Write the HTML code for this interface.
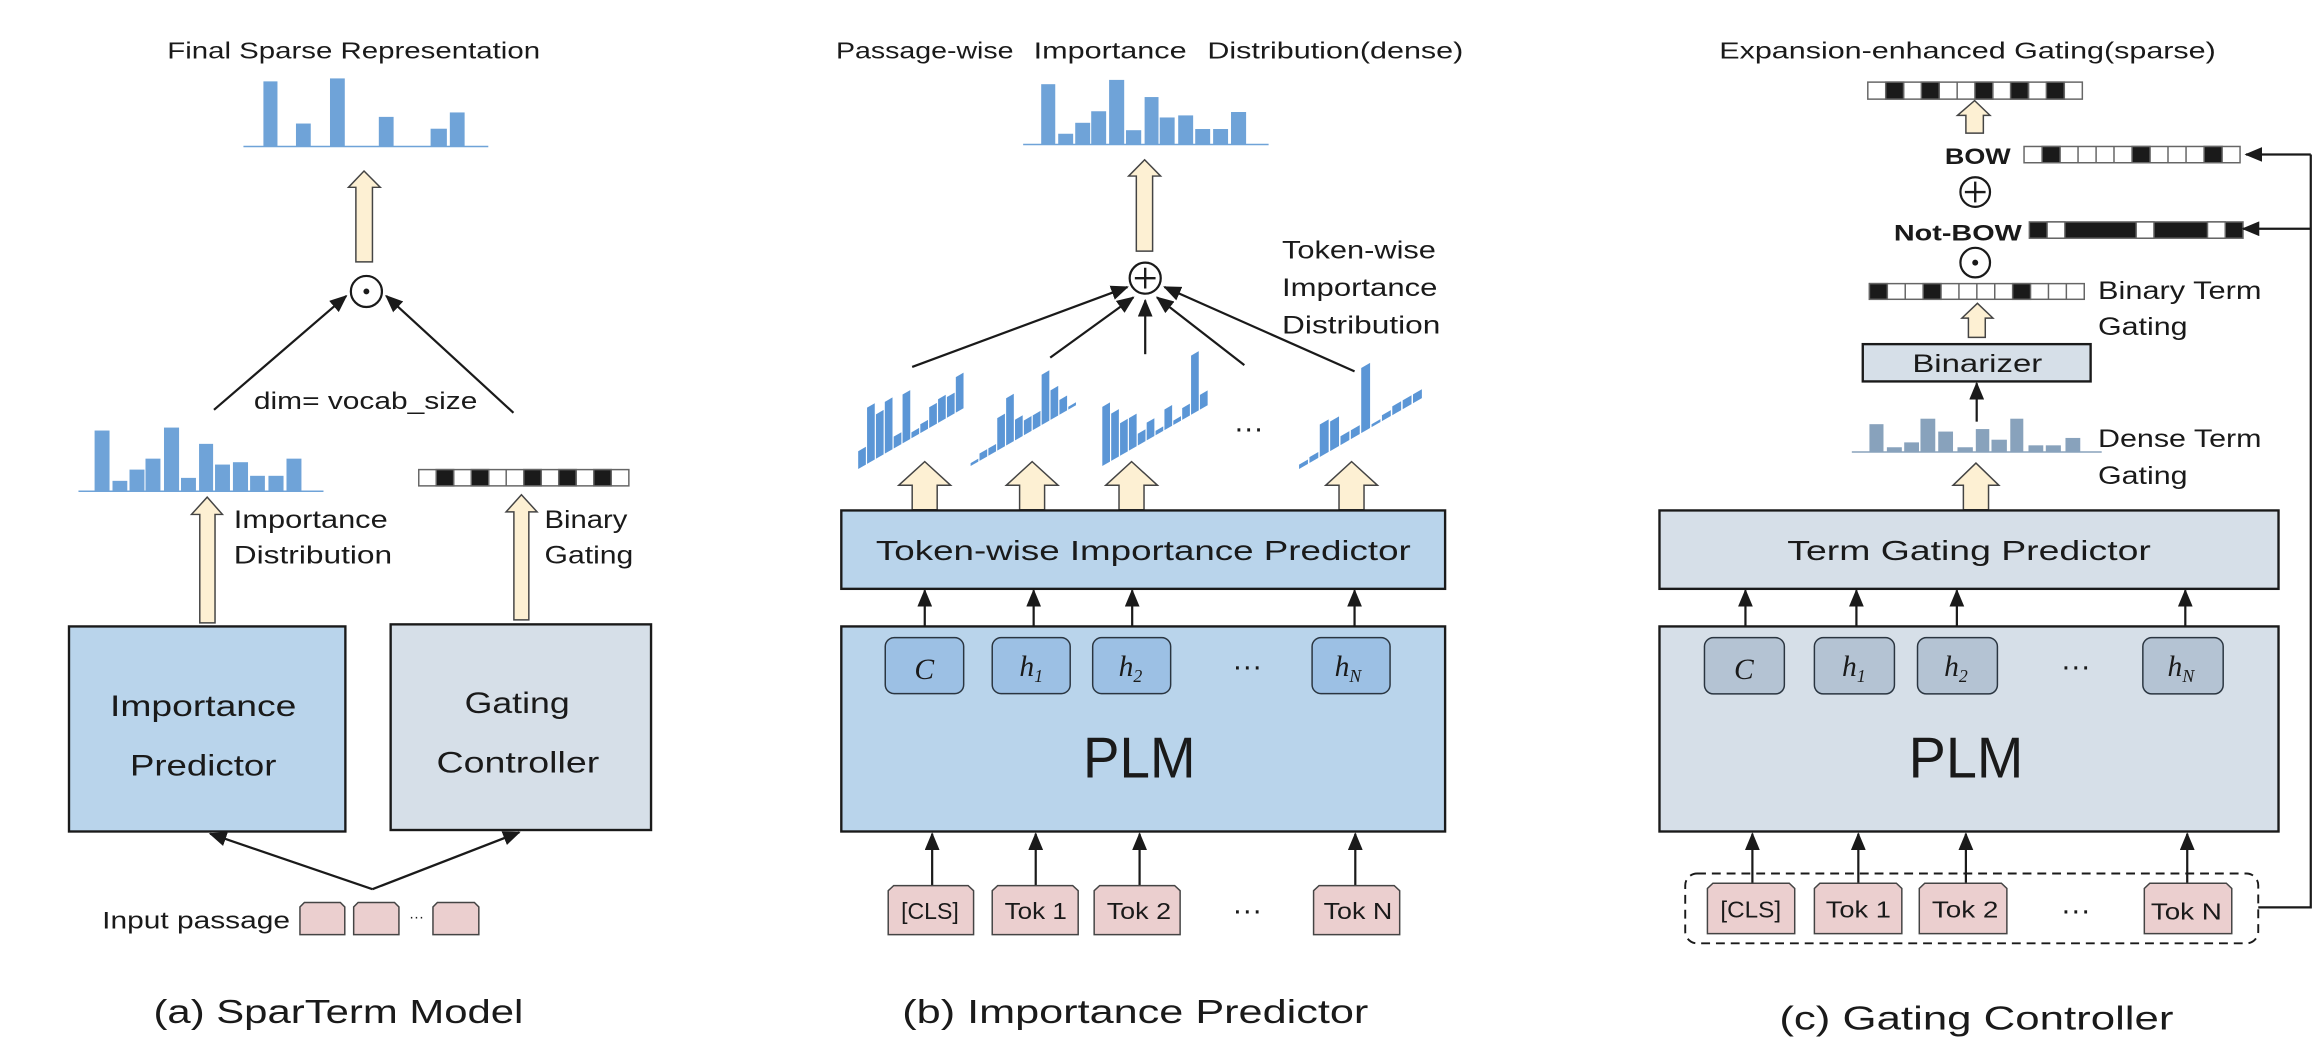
<!DOCTYPE html>
<html><head><meta charset="utf-8"><style>
html,body{margin:0;padding:0;background:#fff;}
svg{display:block;}
text{font-family:"Liberation Sans",sans-serif;fill:#1a1a1a;}
.m{font-family:"Liberation Serif",serif;font-style:italic;}
</style></head><body>
<svg width="2320" height="1062" viewBox="0 0 1568 717.8" xmlns="http://www.w3.org/2000/svg">
<defs>
<marker id="ah" markerUnits="userSpaceOnUse" markerWidth="12" markerHeight="10" refX="11" refY="5" orient="auto">
<path d="M0,0 L12,5 L0,10 Z" fill="#1a1a1a"/></marker>
</defs>

<!-- ================= PANEL A ================= -->
<text x="113" y="39.5" font-size="15.5" textLength="252" lengthAdjust="spacingAndGlyphs">Final Sparse Representation</text>
<g fill="#6fa3d8">
<rect x="178" y="55" width="9.5" height="44"/><rect x="200" y="83.5" width="10" height="15.5"/>
<rect x="223" y="53" width="10" height="46"/><rect x="256" y="79" width="10" height="20"/>
<rect x="291" y="87" width="11" height="12"/><rect x="304" y="76" width="10" height="23"/>
</g>
<line x1="164.5" y1="99" x2="330" y2="99" stroke="#6fa3d8" stroke-width="1"/>
<path d="M246,115.6 L257,126.6 L251.7,126.6 L251.7,177 L240.5,177 L240.5,126.6 L235.5,126.6 Z" fill="#fdf0d3" stroke="#444" stroke-width="1"/>
<circle cx="247.6" cy="197" r="10.5" fill="#fff" stroke="#1a1a1a" stroke-width="1.5"/>
<circle cx="247.6" cy="197" r="2" fill="#1a1a1a"/>
<line x1="144.6" y1="277" x2="234" y2="200" stroke="#1a1a1a" stroke-width="1.5" marker-end="url(#ah)"/>
<line x1="347" y1="279" x2="261" y2="200" stroke="#1a1a1a" stroke-width="1.5" marker-end="url(#ah)"/>
<text x="171.6" y="276.5" font-size="16" textLength="151" lengthAdjust="spacingAndGlyphs">dim= vocab_size</text>
<g fill="#6fa3d8">
<rect x="63.9" y="291" width="10.1" height="41"/><rect x="76" y="325" width="10" height="7"/>
<rect x="87.5" y="317.4" width="10.1" height="14.6"/><rect x="98.3" y="310" width="10.1" height="22"/>
<rect x="110.8" y="289" width="10.2" height="43"/><rect x="122.3" y="323" width="10.1" height="9"/>
<rect x="134.5" y="300" width="9.5" height="32"/><rect x="145.3" y="314" width="10.1" height="18"/>
<rect x="157.4" y="312.4" width="10.2" height="19.6"/><rect x="169" y="321.6" width="10" height="10.4"/>
<rect x="181.4" y="321.6" width="10.2" height="10.4"/><rect x="193.6" y="310" width="10.1" height="22"/>
</g>
<line x1="53" y1="332" x2="218.6" y2="332" stroke="#6fa3d8" stroke-width="1"/>
<path d="M140,336 L150.3,347.7 L145.3,347.7 L145.3,421 L135,421 L135,347.7 L129.4,347.7 Z" fill="#fdf0d3" stroke="#444" stroke-width="1"/>
<text x="158" y="357" font-size="17" textLength="104" lengthAdjust="spacingAndGlyphs">Importance</text>
<text x="158" y="381" font-size="17" textLength="107" lengthAdjust="spacingAndGlyphs">Distribution</text>
<g stroke="#666" stroke-width="1">
<rect x="283" y="317.4" width="142" height="11" fill="#fff"/>
<rect x="294.8" y="317.4" width="11.8" height="11" fill="#1a1a1a"/>
<rect x="318.5" y="317.4" width="11.8" height="11" fill="#1a1a1a"/>
<rect x="354" y="317.4" width="11.8" height="11" fill="#1a1a1a"/>
<rect x="377.6" y="317.4" width="11.8" height="11" fill="#1a1a1a"/>
<rect x="401.3" y="317.4" width="11.8" height="11" fill="#1a1a1a"/>
<path d="M306.6,317.4v11M330.3,317.4v11M342.1,317.4v11M365.8,317.4v11M389.4,317.4v11M413.1,317.4v11"/>
</g>
<path d="M352.4,334.4 L363,346 L357.4,346 L357.4,419 L347.3,419 L347.3,346 L342,346 Z" fill="#fdf0d3" stroke="#444" stroke-width="1"/>
<text x="368" y="357" font-size="17" textLength="56" lengthAdjust="spacingAndGlyphs">Binary</text>
<text x="368" y="381" font-size="17" textLength="60" lengthAdjust="spacingAndGlyphs">Gating</text>
<rect x="46.6" y="423.4" width="186.8" height="138.6" fill="#b9d4eb" stroke="#1a1a1a" stroke-width="1.6"/>
<text x="74.3" y="484" font-size="20" textLength="126" lengthAdjust="spacingAndGlyphs">Importance</text>
<text x="87.8" y="524" font-size="20" textLength="99" lengthAdjust="spacingAndGlyphs">Predictor</text>
<rect x="264" y="422" width="176" height="139" fill="#d6dfe8" stroke="#1a1a1a" stroke-width="1.6"/>
<text x="314" y="482" font-size="20" textLength="71" lengthAdjust="spacingAndGlyphs">Gating</text>
<text x="295" y="522" font-size="20" textLength="110" lengthAdjust="spacingAndGlyphs">Controller</text>
<line x1="251.7" y1="601" x2="142" y2="563.5" stroke="#1a1a1a" stroke-width="1.5" marker-end="url(#ah)"/>
<line x1="251.7" y1="601" x2="351" y2="562.5" stroke="#1a1a1a" stroke-width="1.5" marker-end="url(#ah)"/>
<text x="69" y="627.5" font-size="16" textLength="127" lengthAdjust="spacingAndGlyphs">Input passage</text>
<g fill="#ebcfcf" stroke="#444" stroke-width="1">
<path d="M202.7,631.7 V613 L205.7,610 H230 L233,613 V631.7 Z"/>
<path d="M239,631.7 V613 L242,610 H266.6 L269.6,613 V631.7 Z"/>
<path d="M292.6,631.7 V613 L295.6,610 H320.6 L323.6,613 V631.7 Z"/>
</g>
<text x="276.5" y="623" font-size="10">···</text>
<text x="103.7" y="691.5" font-size="22.5" textLength="250" lengthAdjust="spacingAndGlyphs">(a) SparTerm Model</text>

<!-- ================= PANEL B ================= -->
<text x="565" y="39.5" font-size="15.5" textLength="120" lengthAdjust="spacingAndGlyphs">Passage-wise</text>
<text x="698.6" y="39.5" font-size="15.5" textLength="103.4" lengthAdjust="spacingAndGlyphs">Importance</text>
<text x="816" y="39.5" font-size="15.5" textLength="173" lengthAdjust="spacingAndGlyphs">Distribution(dense)</text>
<g fill="#6fa3d8">
<rect x="703.7" y="56.9" width="9.5" height="40.8"/><rect x="715.2" y="90.4" width="10.1" height="7.3"/>
<rect x="726.7" y="83" width="10.1" height="14.7"/><rect x="737.5" y="75.2" width="10.1" height="22.5"/>
<rect x="749.6" y="54" width="10.2" height="43.7"/><rect x="761" y="88" width="10.3" height="9.7"/>
<rect x="773.6" y="65.6" width="9.4" height="32.1"/><rect x="783.8" y="79.4" width="10.1" height="18.3"/>
<rect x="796.3" y="78" width="10.1" height="19.7"/><rect x="807.8" y="87.2" width="10.1" height="10.5"/>
<rect x="819.9" y="87.2" width="10.1" height="10.5"/><rect x="832" y="75.7" width="10.2" height="22"/>
</g>
<line x1="691.5" y1="97.7" x2="857.4" y2="97.7" stroke="#6fa3d8" stroke-width="1"/>
<path d="M773.6,108 L784.4,119 L779,119 L779,169.7 L768,169.7 L768,119 L762.8,119 Z" fill="#fdf0d3" stroke="#444" stroke-width="1"/>
<circle cx="774" cy="188" r="10.5" fill="#fff" stroke="#1a1a1a" stroke-width="1.5"/>
<path d="M767,188 H781 M774,181 V195" stroke="#1a1a1a" stroke-width="1.6"/>
<g stroke="#1a1a1a" stroke-width="1.5" marker-end="url(#ah)">
<line x1="616.5" y1="248" x2="762" y2="194"/>
<line x1="709.8" y1="241.7" x2="766" y2="201"/>
<line x1="774" y1="239.4" x2="774" y2="203"/>
<line x1="841" y1="246.8" x2="782" y2="201"/>
<line x1="915.5" y1="251" x2="787" y2="194"/>
</g>
<text x="866.5" y="174.8" font-size="17" textLength="104" lengthAdjust="spacingAndGlyphs">Token-wise</text>
<text x="866.5" y="200" font-size="17" textLength="105" lengthAdjust="spacingAndGlyphs">Importance</text>
<text x="866.5" y="225.3" font-size="17" textLength="107" lengthAdjust="spacingAndGlyphs">Distribution</text>
<!-- skewed charts -->
<g fill="#5b96d6">
<g transform="translate(580,317) skewY(-30)">
<rect x="0" y="-12" width="5.2" height="12"/><rect x="6" y="-38" width="5.2" height="38"/><rect x="12" y="-30" width="5.2" height="30"/><rect x="18" y="-35" width="5.2" height="35"/><rect x="24" y="-8" width="5.2" height="8"/><rect x="30" y="-33" width="5.2" height="33"/><rect x="36" y="-4" width="5.2" height="4"/><rect x="42" y="-6" width="5.2" height="6"/><rect x="48" y="-14" width="5.2" height="14"/><rect x="54" y="-16" width="5.2" height="16"/><rect x="60" y="-14" width="5.2" height="14"/><rect x="66" y="-24" width="5.2" height="24"/>
</g>
<g transform="translate(656,315) skewY(-30)">
<rect x="0" y="-2" width="5.2" height="2"/><rect x="6" y="-5" width="5.2" height="5"/><rect x="12" y="-5" width="5.2" height="5"/><rect x="18" y="-22" width="5.2" height="22"/><rect x="24" y="-32" width="5.2" height="32"/><rect x="30" y="-14" width="5.2" height="14"/><rect x="36" y="-10" width="5.2" height="10"/><rect x="42" y="-10" width="5.2" height="10"/><rect x="48" y="-34" width="5.2" height="34"/><rect x="54" y="-20" width="5.2" height="20"/><rect x="60" y="-10" width="5.2" height="10"/><rect x="66" y="-2" width="5.2" height="2"/>
</g>
<g transform="translate(745,315) skewY(-30)">
<rect x="0" y="-40" width="5.2" height="40"/><rect x="6" y="-32" width="5.2" height="32"/><rect x="12" y="-22" width="5.2" height="22"/><rect x="18" y="-22" width="5.2" height="22"/><rect x="24" y="-8" width="5.2" height="8"/><rect x="30" y="-12" width="5.2" height="12"/><rect x="36" y="-3" width="5.2" height="3"/><rect x="42" y="-14" width="5.2" height="14"/><rect x="48" y="-3" width="5.2" height="3"/><rect x="54" y="-8" width="5.2" height="8"/><rect x="60" y="-40" width="5.2" height="40"/><rect x="66" y="-10" width="5.2" height="10"/>
</g>
<g transform="translate(878,317) skewY(-30)">
<rect x="0" y="-3" width="6" height="3"/><rect x="7" y="-4" width="6" height="4"/><rect x="14" y="-22" width="6" height="22"/><rect x="21" y="-20" width="6" height="20"/><rect x="28" y="-6" width="6" height="6"/><rect x="35" y="-6" width="6" height="6"/><rect x="42" y="-44" width="6" height="44"/><rect x="49" y="-2" width="6" height="2"/><rect x="56" y="-4" width="6" height="4"/><rect x="63" y="-6" width="6" height="6"/><rect x="70" y="-6" width="6" height="6"/><rect x="77" y="-6" width="6" height="6"/>
</g>
</g>
<text x="834" y="296" font-size="20">···</text>
<g fill="#fdf0d3" stroke="#444" stroke-width="1">
<path d="M625,312 L642.5,328 L633.4,328 L633.4,344.5 L616.5,344.5 L616.5,328 L607.4,328 Z"/>
<path d="M697.6,312 L715.1,328 L706,328 L706,344.5 L689.1,344.5 L689.1,328 L680.1,328 Z"/>
<path d="M764.8,312 L782.3,328 L773.2,328 L773.2,344.5 L756.3,344.5 L756.3,328 L747.3,328 Z"/>
<path d="M913.5,312 L931,328 L921.9,328 L921.9,344.5 L905,344.5 L905,328 L896,328 Z"/>
</g>
<rect x="568.6" y="345" width="408.1" height="53" fill="#b9d4eb" stroke="#1a1a1a" stroke-width="1.6"/>
<text x="592" y="378.5" font-size="19" textLength="361.5" lengthAdjust="spacingAndGlyphs">Token-wise Importance Predictor</text>
<g stroke="#1a1a1a" stroke-width="1.5" marker-end="url(#ah)">
<line x1="625" y1="431" x2="625" y2="399"/><line x1="698.6" y1="431" x2="698.6" y2="399"/>
<line x1="765.2" y1="431" x2="765.2" y2="399"/><line x1="915.5" y1="431" x2="915.5" y2="399"/>
</g>
<rect x="568.6" y="423.4" width="408.1" height="138.6" fill="#b9d4eb" stroke="#1a1a1a" stroke-width="1.6"/>
<g fill="#9cc0e4" stroke="#2a3540" stroke-width="1">
<rect x="598.3" y="431" width="53" height="37.8" rx="6"/><rect x="670.6" y="431" width="52.7" height="37.8" rx="6"/>
<rect x="738.5" y="431" width="52.7" height="37.8" rx="6"/><rect x="886.8" y="431" width="52.7" height="37.8" rx="6"/>
</g>
<g font-size="20">
<text x="618" y="459" class="m">C</text>
<text x="689" y="457" class="m">h<tspan font-size="12" dy="4">1</tspan></text>
<text x="756" y="457" class="m">h<tspan font-size="12" dy="4">2</tspan></text>
<text x="902" y="457" class="m">h<tspan font-size="12" dy="4">N</tspan></text>
</g>
<text x="833" y="457" font-size="20">···</text>
<text x="732" y="525.5" font-size="39" textLength="76" lengthAdjust="spacingAndGlyphs">PLM</text>
<g stroke="#1a1a1a" stroke-width="1.5" marker-end="url(#ah)">
<line x1="630" y1="598.6" x2="630" y2="563.5"/><line x1="700" y1="598.6" x2="700" y2="563.5"/>
<line x1="770.2" y1="598.6" x2="770.2" y2="563.5"/><line x1="916" y1="598.6" x2="916" y2="563.5"/>
</g>
<g fill="#ebcfcf" stroke="#444" stroke-width="1">
<path d="M600.3,631.7 V602 L604,598.6 H654.3 L658,602 V631.7 Z"/>
<path d="M670.6,631.7 V602 L674.3,598.6 H725 L728.7,602 V631.7 Z"/>
<path d="M739.5,631.7 V602 L743.2,598.6 H793.9 L797.6,602 V631.7 Z"/>
<path d="M887.8,631.7 V602 L891.5,598.6 H942.3 L946,602 V631.7 Z"/>
</g>
<g font-size="15.5">
<text x="609" y="621" textLength="39" lengthAdjust="spacingAndGlyphs">[CLS]</text>
<text x="679" y="621" textLength="42" lengthAdjust="spacingAndGlyphs">Tok 1</text>
<text x="748" y="621" textLength="43.5" lengthAdjust="spacingAndGlyphs">Tok 2</text>
<text x="894.6" y="621" textLength="46.4" lengthAdjust="spacingAndGlyphs">Tok N</text>
</g>
<text x="833" y="622" font-size="20">···</text>
<text x="609.8" y="691.5" font-size="22.5" textLength="315" lengthAdjust="spacingAndGlyphs">(b) Importance Predictor</text>

<!-- ================= PANEL C ================= -->
<text x="1162" y="39.5" font-size="15.5" textLength="335.6" lengthAdjust="spacingAndGlyphs">Expansion-enhanced Gating(sparse)</text>
<g stroke="#666" stroke-width="1">
<rect x="1262.4" y="55.5" width="145" height="11.5" fill="#fff"/>
<rect x="1274.5" y="55.5" width="12.1" height="11.5" fill="#1a1a1a"/>
<rect x="1298.6" y="55.5" width="12.1" height="11.5" fill="#1a1a1a"/>
<rect x="1334.8" y="55.5" width="12.1" height="11.5" fill="#1a1a1a"/>
<rect x="1358.9" y="55.5" width="12.1" height="11.5" fill="#1a1a1a"/>
<rect x="1383.1" y="55.5" width="12.1" height="11.5" fill="#1a1a1a"/>
<path d="M1286.6,55.5v11.5M1310.7,55.5v11.5M1322.8,55.5v11.5M1346.9,55.5v11.5M1371,55.5v11.5M1395.2,55.5v11.5"/>
</g>
<path d="M1334.6,68 L1345,78 L1340.5,78 L1340.5,90 L1328.7,90 L1328.7,78 L1323,78 Z" fill="#fdf0d3" stroke="#444" stroke-width="1"/>
<text x="1314.5" y="111" font-size="15" font-weight="bold" textLength="44.5" lengthAdjust="spacingAndGlyphs">BOW</text>
<g stroke="#666" stroke-width="1">
<rect x="1368" y="99" width="146" height="11" fill="#fff"/>
<rect x="1380.2" y="99" width="12.2" height="11" fill="#1a1a1a"/>
<rect x="1441" y="99" width="12.2" height="11" fill="#1a1a1a"/>
<rect x="1489.7" y="99" width="12.2" height="11" fill="#1a1a1a"/>
<path d="M1404.5,99v11M1416.7,99v11M1428.8,99v11M1465.3,99v11M1477.5,99v11"/>
</g>
<circle cx="1335" cy="129.8" r="10" fill="#fff" stroke="#1a1a1a" stroke-width="1.5"/>
<path d="M1328,129.8 H1342 M1335,122.8 V136.8" stroke="#1a1a1a" stroke-width="1.6"/>
<text x="1280" y="162.5" font-size="15" font-weight="bold" textLength="86.5" lengthAdjust="spacingAndGlyphs">Not-BOW</text>
<g stroke="#666" stroke-width="1">
<rect x="1371.6" y="150" width="144.4" height="11" fill="#1a1a1a"/>
<rect x="1383.6" y="150" width="12" height="11" fill="#fff"/>
<rect x="1443.8" y="150" width="12" height="11" fill="#fff"/>
<rect x="1492" y="150" width="12" height="11" fill="#fff"/>
</g>
<circle cx="1335" cy="177.5" r="10" fill="#fff" stroke="#1a1a1a" stroke-width="1.5"/>
<circle cx="1335" cy="177.5" r="2" fill="#1a1a1a"/>
<g stroke="#666" stroke-width="1">
<rect x="1263.5" y="191.7" width="145.2" height="10.6" fill="#fff"/>
<rect x="1263.5" y="191.7" width="12.1" height="10.6" fill="#1a1a1a"/>
<rect x="1299.8" y="191.7" width="12.1" height="10.6" fill="#1a1a1a"/>
<rect x="1360.3" y="191.7" width="12.1" height="10.6" fill="#1a1a1a"/>
<path d="M1287.7,191.7v10.6M1324,191.7v10.6M1336.1,191.7v10.6M1348.2,191.7v10.6M1384.5,191.7v10.6M1396.6,191.7v10.6"/>
</g>
<text x="1418" y="202" font-size="17" textLength="110.5" lengthAdjust="spacingAndGlyphs">Binary Term</text>
<text x="1418" y="226.6" font-size="17" textLength="60.5" lengthAdjust="spacingAndGlyphs">Gating</text>
<path d="M1336.5,205 L1347,215 L1341.8,215 L1341.8,228 L1330.4,228 L1330.4,215 L1326,215 Z" fill="#fdf0d3" stroke="#444" stroke-width="1"/>
<rect x="1259" y="232.6" width="154" height="25.2" fill="#d6dfe8" stroke="#1a1a1a" stroke-width="1.6"/>
<text x="1292.5" y="251.5" font-size="17" textLength="87.8" lengthAdjust="spacingAndGlyphs">Binarizer</text>
<line x1="1336" y1="285" x2="1336" y2="259" stroke="#1a1a1a" stroke-width="1.5" marker-end="url(#ah)"/>
<g fill="#88a2bc">
<rect x="1263.5" y="286.7" width="9.5" height="18.8"/><rect x="1275.3" y="302.3" width="10.1" height="3.2"/>
<rect x="1287" y="299" width="10" height="6.5"/><rect x="1298" y="283" width="10" height="22.5"/>
<rect x="1310" y="291.7" width="10" height="13.8"/><rect x="1323" y="302.3" width="10.4" height="3.2"/>
<rect x="1335.4" y="290" width="9.1" height="15.5"/><rect x="1346" y="297.2" width="10.4" height="8.3"/>
<rect x="1358.7" y="283" width="8.8" height="22.5"/><rect x="1371" y="301" width="10" height="4.5"/>
<rect x="1382.7" y="301" width="10.2" height="4.5"/><rect x="1396" y="296" width="10" height="9.5"/>
</g>
<line x1="1251.6" y1="305.5" x2="1420.5" y2="305.5" stroke="#88a2bc" stroke-width="1"/>
<text x="1418" y="302" font-size="17" textLength="110.5" lengthAdjust="spacingAndGlyphs">Dense Term</text>
<text x="1418" y="327" font-size="17" textLength="60.5" lengthAdjust="spacingAndGlyphs">Gating</text>
<path d="M1335.5,313 L1351,328 L1344,328 L1344,344.5 L1327,344.5 L1327,328 L1320,328 Z" fill="#fdf0d3" stroke="#444" stroke-width="1"/>
<rect x="1121.6" y="345" width="418.4" height="53" fill="#d6dfe8" stroke="#1a1a1a" stroke-width="1.6"/>
<text x="1208" y="378.5" font-size="19" textLength="245.7" lengthAdjust="spacingAndGlyphs">Term Gating Predictor</text>
<g stroke="#1a1a1a" stroke-width="1.5" marker-end="url(#ah)">
<line x1="1179.7" y1="431" x2="1179.7" y2="399"/><line x1="1254.7" y1="431" x2="1254.7" y2="399"/>
<line x1="1322.6" y1="431" x2="1322.6" y2="399"/><line x1="1477" y1="431" x2="1477" y2="399"/>
</g>
<rect x="1121.6" y="423.4" width="418.4" height="138.6" fill="#d6dfe8" stroke="#1a1a1a" stroke-width="1.6"/>
<g fill="#b4c3d3" stroke="#2a3540" stroke-width="1">
<rect x="1152" y="431" width="54" height="38" rx="6"/><rect x="1226.3" y="431" width="54.1" height="38" rx="6"/>
<rect x="1296" y="431" width="54" height="38" rx="6"/><rect x="1448.3" y="431" width="54.3" height="38" rx="6"/>
</g>
<g font-size="20">
<text x="1172" y="459" class="m">C</text>
<text x="1245" y="457" class="m">h<tspan font-size="12" dy="4">1</tspan></text>
<text x="1314" y="457" class="m">h<tspan font-size="12" dy="4">2</tspan></text>
<text x="1465" y="457" class="m">h<tspan font-size="12" dy="4">N</tspan></text>
</g>
<text x="1393" y="457" font-size="20">···</text>
<text x="1290" y="525.5" font-size="39" textLength="77.5" lengthAdjust="spacingAndGlyphs">PLM</text>
<g stroke="#1a1a1a" stroke-width="1.5" marker-end="url(#ah)">
<line x1="1184.4" y1="598" x2="1184.4" y2="563.5"/><line x1="1256" y1="598" x2="1256" y2="563.5"/>
<line x1="1328.7" y1="598" x2="1328.7" y2="563.5"/><line x1="1478.3" y1="598" x2="1478.3" y2="563.5"/>
</g>
<rect x="1139" y="590.4" width="387.3" height="47.2" rx="8" fill="none" stroke="#1a1a1a" stroke-width="1.3" stroke-dasharray="6,4"/>
<g fill="#ebcfcf" stroke="#444" stroke-width="1">
<path d="M1154,631 V600.5 L1157.7,597 H1209.3 L1213,600.5 V631 Z"/>
<path d="M1226.3,631 V600.5 L1230,597 H1281.7 L1285.4,600.5 V631 Z"/>
<path d="M1297.2,631 V600.5 L1300.9,597 H1352.7 L1356.4,600.5 V631 Z"/>
<path d="M1449.3,631 V600.5 L1453,597 H1504.7 L1508.4,600.5 V631 Z"/>
</g>
<g font-size="15.5">
<text x="1162.8" y="620" textLength="41" lengthAdjust="spacingAndGlyphs">[CLS]</text>
<text x="1234" y="620" textLength="44" lengthAdjust="spacingAndGlyphs">Tok 1</text>
<text x="1305.7" y="620" textLength="45" lengthAdjust="spacingAndGlyphs">Tok 2</text>
<text x="1453.7" y="621.5" textLength="48" lengthAdjust="spacingAndGlyphs">Tok N</text>
</g>
<text x="1393" y="622" font-size="20">···</text>
<polyline points="1526.3,613.3 1561.8,613.3 1561.8,104.4" fill="none" stroke="#1a1a1a" stroke-width="1.5"/>
<line x1="1561.8" y1="104.4" x2="1518" y2="104.4" stroke="#1a1a1a" stroke-width="1.5" marker-end="url(#ah)"/>
<line x1="1561.8" y1="154.6" x2="1516" y2="154.6" stroke="#1a1a1a" stroke-width="1.5" marker-end="url(#ah)"/>
<text x="1202.6" y="696" font-size="22.5" textLength="266.4" lengthAdjust="spacingAndGlyphs">(c) Gating Controller</text>
</svg>
</body></html>
